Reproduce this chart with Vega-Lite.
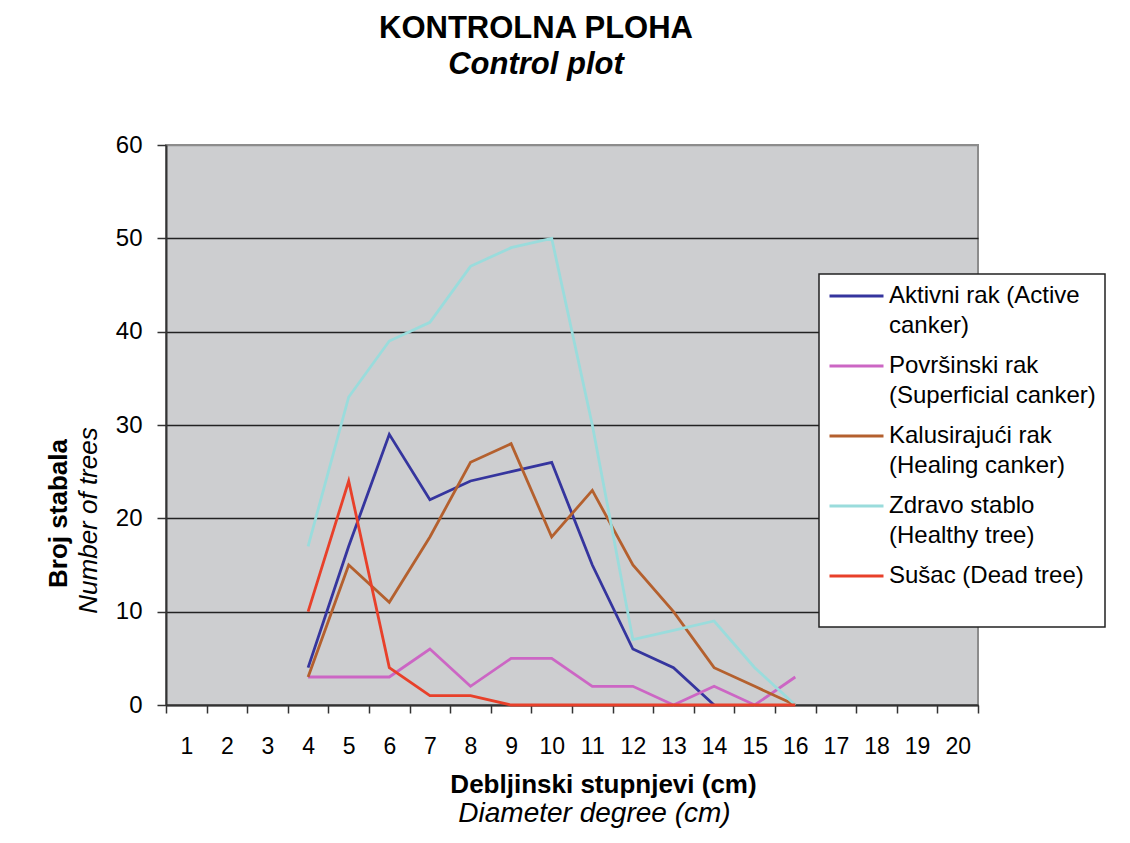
{
  "$schema": "https://vega.github.io/schema/vega-lite/v6.json",
  "width": 812,
  "height": 560,
  "autosize": {"type": "none"},
  "padding": {"left": 166, "top": 145, "right": 152, "bottom": 138},
  "background": "white",
  "config": {
    "font": "Liberation Sans",
    "view": {"fill": "#cdced0", "stroke": "#8c8c8c", "strokeWidth": 2}
  },
  "title": {
    "text": "KONTROLNA PLOHA",
    "subtitle": "Control plot",
    "anchor": "middle",
    "frame": "group",
    "fontSize": 31,
    "fontWeight": "bold",
    "color": "black",
    "subtitleFontSize": 31,
    "subtitleFontStyle": "italic",
    "subtitleFontWeight": "bold",
    "subtitleColor": "black",
    "subtitlePadding": 5,
    "dx": -36,
    "offset": 52
  },
  "data": {
    "values": [
      {"d": 4, "series": " Aktivni rak (Active|canker)", "n": 4},
      {"d": 5, "series": " Aktivni rak (Active|canker)", "n": 17},
      {"d": 6, "series": " Aktivni rak (Active|canker)", "n": 29},
      {"d": 7, "series": " Aktivni rak (Active|canker)", "n": 22},
      {"d": 8, "series": " Aktivni rak (Active|canker)", "n": 24},
      {"d": 9, "series": " Aktivni rak (Active|canker)", "n": 25},
      {"d": 10, "series": " Aktivni rak (Active|canker)", "n": 26},
      {"d": 11, "series": " Aktivni rak (Active|canker)", "n": 15},
      {"d": 12, "series": " Aktivni rak (Active|canker)", "n": 6},
      {"d": 13, "series": " Aktivni rak (Active|canker)", "n": 4},
      {"d": 14, "series": " Aktivni rak (Active|canker)", "n": 0},
      {"d": 4, "series": "Površinski rak|(Superficial canker)", "n": 3},
      {"d": 5, "series": "Površinski rak|(Superficial canker)", "n": 3},
      {"d": 6, "series": "Površinski rak|(Superficial canker)", "n": 3},
      {"d": 7, "series": "Površinski rak|(Superficial canker)", "n": 6},
      {"d": 8, "series": "Površinski rak|(Superficial canker)", "n": 2},
      {"d": 9, "series": "Površinski rak|(Superficial canker)", "n": 5},
      {"d": 10, "series": "Površinski rak|(Superficial canker)", "n": 5},
      {"d": 11, "series": "Površinski rak|(Superficial canker)", "n": 2},
      {"d": 12, "series": "Površinski rak|(Superficial canker)", "n": 2},
      {"d": 13, "series": "Površinski rak|(Superficial canker)", "n": 0},
      {"d": 14, "series": "Površinski rak|(Superficial canker)", "n": 2},
      {"d": 15, "series": "Površinski rak|(Superficial canker)", "n": 0},
      {"d": 16, "series": "Površinski rak|(Superficial canker)", "n": 3},
      {"d": 4, "series": "Kalusirajući rak|(Healing canker)", "n": 3},
      {"d": 5, "series": "Kalusirajući rak|(Healing canker)", "n": 15},
      {"d": 6, "series": "Kalusirajući rak|(Healing canker)", "n": 11},
      {"d": 7, "series": "Kalusirajući rak|(Healing canker)", "n": 18},
      {"d": 8, "series": "Kalusirajući rak|(Healing canker)", "n": 26},
      {"d": 9, "series": "Kalusirajući rak|(Healing canker)", "n": 28},
      {"d": 10, "series": "Kalusirajući rak|(Healing canker)", "n": 18},
      {"d": 11, "series": "Kalusirajući rak|(Healing canker)", "n": 23},
      {"d": 12, "series": "Kalusirajući rak|(Healing canker)", "n": 15},
      {"d": 13, "series": "Kalusirajući rak|(Healing canker)", "n": 10},
      {"d": 14, "series": "Kalusirajući rak|(Healing canker)", "n": 4},
      {"d": 15, "series": "Kalusirajući rak|(Healing canker)", "n": 2},
      {"d": 16, "series": "Kalusirajući rak|(Healing canker)", "n": 0},
      {"d": 4, "series": "Zdravo stablo|(Healthy  tree)", "n": 17},
      {"d": 5, "series": "Zdravo stablo|(Healthy  tree)", "n": 33},
      {"d": 6, "series": "Zdravo stablo|(Healthy  tree)", "n": 39},
      {"d": 7, "series": "Zdravo stablo|(Healthy  tree)", "n": 41},
      {"d": 8, "series": "Zdravo stablo|(Healthy  tree)", "n": 47},
      {"d": 9, "series": "Zdravo stablo|(Healthy  tree)", "n": 49},
      {"d": 10, "series": "Zdravo stablo|(Healthy  tree)", "n": 50},
      {"d": 11, "series": "Zdravo stablo|(Healthy  tree)", "n": 30},
      {"d": 12, "series": "Zdravo stablo|(Healthy  tree)", "n": 7},
      {"d": 13, "series": "Zdravo stablo|(Healthy  tree)", "n": 8},
      {"d": 14, "series": "Zdravo stablo|(Healthy  tree)", "n": 9},
      {"d": 15, "series": "Zdravo stablo|(Healthy  tree)", "n": 4},
      {"d": 16, "series": "Zdravo stablo|(Healthy  tree)", "n": 0},
      {"d": 4, "series": "Sušac (Dead tree)|", "n": 10},
      {"d": 5, "series": "Sušac (Dead tree)|", "n": 24},
      {"d": 6, "series": "Sušac (Dead tree)|", "n": 4},
      {"d": 7, "series": "Sušac (Dead tree)|", "n": 1},
      {"d": 8, "series": "Sušac (Dead tree)|", "n": 1},
      {"d": 9, "series": "Sušac (Dead tree)|", "n": 0},
      {"d": 10, "series": "Sušac (Dead tree)|", "n": 0},
      {"d": 11, "series": "Sušac (Dead tree)|", "n": 0},
      {"d": 12, "series": "Sušac (Dead tree)|", "n": 0},
      {"d": 13, "series": "Sušac (Dead tree)|", "n": 0},
      {"d": 14, "series": "Sušac (Dead tree)|", "n": 0},
      {"d": 15, "series": "Sušac (Dead tree)|", "n": 0},
      {"d": 16, "series": "Sušac (Dead tree)|", "n": 0}
    ]
  },
  "layer": [
    {
      "mark": {"type": "line", "strokeWidth": 2.8},
      "encoding": {
        "x": {
          "field": "d",
          "type": "ordinal",
          "scale": {"type": "band", "domain": [1,2,3,4,5,6,7,8,9,10,11,12,13,14,15,16,17,18,19,20], "paddingInner": 0, "paddingOuter": 0},
          "axis": {
            "orient": "bottom",
            "title": "Debljinski stupnjevi (cm)",
            "titleFontSize": 26,
            "titleFontWeight": "bold",
            "titleColor": "black",
            "titleX": 437,
            "titleY": 87.5,
            "titleBaseline": "alphabetic",
            "labelAngle": 0,
            "labelFontSize": 23,
            "labelColor": "black",
            "labelPadding": 22,
            "tickSize": 8,
            "tickColor": "#333333",
            "tickWidth": 1.5,
            "tickBand": "extent",
            "domainColor": "#333333",
            "domainWidth": 2,
            "grid": false
          }
        },
        "y": {
          "field": "n",
          "type": "quantitative",
          "scale": {"domain": [0, 60], "nice": false},
          "axis": {
            "orient": "left",
            "values": [0, 10, 20, 30, 40, 50, 60],
            "title": "Broj stabala",
            "titleFontSize": 26,
            "titleFontWeight": "bold",
            "titleColor": "black",
            "titleX": -100,
            "titleY": 368,
            "titleAngle": 270,
            "titleAlign": "center",
            "titleBaseline": "alphabetic",
            "labelFontSize": 24,
            "labelColor": "black",
            "labelPadding": 15,
            "tickSize": 9,
            "tickColor": "#333333",
            "tickWidth": 1.5,
            "domainColor": "#333333",
            "domainWidth": 2,
            "grid": true,
            "gridColor": {"condition": {"test": "datum.value == 60", "value": "#8c8c8c"}, "value": "#222222"},
            "gridWidth": 1.5,
            "gridOpacity": 1
          }
        },
        "color": {
          "field": "series",
          "type": "nominal",
          "scale": {
            "domain": [" Aktivni rak (Active|canker)", "Površinski rak|(Superficial canker)", "Kalusirajući rak|(Healing canker)", "Zdravo stablo|(Healthy  tree)", "Sušac (Dead tree)|"],
            "range": ["#35359e", "#cc66c4", "#b4602e", "#9adcdc", "#e8402a"]
          },
          "legend": {
            "orient": "none",
            "legendX": 653,
            "legendY": 129,
            "title": null,
            "labelExpr": "split(datum.label, '|')",
            "labelFontSize": 24,
            "labelColor": "black",
            "labelLimit": 400,
            "labelOffset": 4,
            "symbolType": "stroke",
            "symbolSize": 2916,
            "symbolStrokeWidth": 3,
            "padding": 9,
            "rowPadding": 15,
            "fillColor": "white",
            "strokeColor": "#222222",
            "encode": {
              "labels": {"update": {"lineHeight": {"value": 30}, "y": {"value": 13}}},
              "symbols": {"update": {"y": {"value": 13}}},
              "legend": {"update": {"strokeWidth": {"value": 1.5}}}
            }
          }
        }
      }
    },
    {
      "mark": {"type": "line", "opacity": 0},
      "encoding": {
        "detail": {"field": "series", "type": "nominal"},
        "x": {
          "field": "d",
          "type": "ordinal",
          "axis": {
            "orient": "bottom",
            "title": "Diameter degree (cm)",
            "titleFontSize": 28,
            "titleFontWeight": "normal",
            "titleFontStyle": "italic",
            "titleColor": "black",
            "titleX": 428,
            "titleY": 116.5,
            "titleBaseline": "alphabetic",
            "labels": false,
            "ticks": false,
            "domain": false,
            "grid": false
          }
        },
        "y": {
          "field": "n",
          "type": "quantitative",
          "axis": {
            "orient": "left",
            "title": "Number of trees",
            "titleFontSize": 26,
            "titleFontWeight": "normal",
            "titleFontStyle": "italic",
            "titleColor": "black",
            "titleX": -70,
            "titleY": 375,
            "titleAngle": 270,
            "titleAlign": "center",
            "titleBaseline": "alphabetic",
            "labels": false,
            "ticks": false,
            "domain": false,
            "grid": false
          }
        }
      }
    }
  ],
  "resolve": {"axis": {"x": "independent", "y": "independent"}}
}
